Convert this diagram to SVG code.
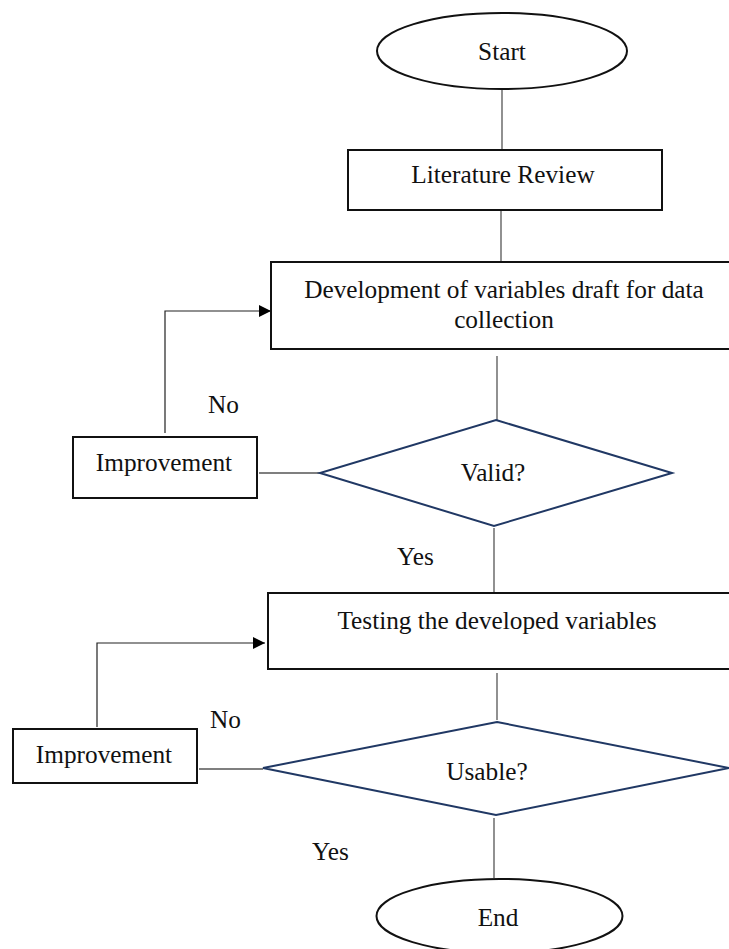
<svg xmlns="http://www.w3.org/2000/svg" width="729" height="949" viewBox="0 0 729 949">
<style>
text{font-family:"Liberation Serif","Times New Roman",serif;font-size:25.3px;fill:#111;text-anchor:middle}
.box{fill:#fff;stroke:#111;stroke-width:2}
.dia{fill:#fff;stroke:#203864;stroke-width:2}
.ln{fill:none;stroke:#555;stroke-width:1.3}
.ar{fill:none;stroke:#222;stroke-width:1.2}
.lbl{text-anchor:start}
</style>
<defs>
<marker id="ah" markerWidth="12" markerHeight="12" refX="12" refY="6" orient="auto" markerUnits="userSpaceOnUse">
<path d="M0,0 L12,6 L0,12 Z" fill="#000"/>
</marker>
</defs>
<rect width="729" height="949" fill="#fff"/>
<g id="connectors">
<line class="ln" x1="502" y1="89" x2="502" y2="150"/>
<line class="ln" x1="501" y1="210" x2="501" y2="262"/>
<line class="ln" x1="497" y1="356" x2="497" y2="420"/>
<line class="ln" x1="494" y1="528" x2="494" y2="593"/>
<line class="ln" x1="259" y1="473" x2="320" y2="473"/>
<polyline class="ar" points="165,433 165,311 271,311" marker-end="url(#ah)"/>
<line class="ln" x1="497" y1="673" x2="497" y2="720"/>
<line class="ln" x1="494" y1="818" x2="494" y2="878"/>
<line class="ln" x1="199" y1="769" x2="263" y2="769"/>
<polyline class="ar" points="97,727 97,643 265,643" marker-end="url(#ah)"/>
<text class="lbl" x="208" y="413">No</text>
<text class="lbl" x="397" y="565">Yes</text>
<text class="lbl" x="210" y="728">No</text>
<text class="lbl" x="312" y="860">Yes</text>
</g>
<g id="start">
<ellipse class="box" cx="502" cy="51" rx="125" ry="38"/>
<text x="502" y="60">Start</text>
</g>
<g id="literature">
<rect class="box" x="348" y="150" width="314" height="60"/>
<text x="503" y="183">Literature Review</text>
</g>
<g id="development">
<rect class="box" x="271" y="262" width="459" height="87"/>
<text x="504" y="298">Development of variables draft for data</text>
<text x="504" y="328">collection</text>
</g>
<g id="valid">
<polygon class="dia" points="496,420 672,473 494,526 320,473"/>
<text x="493" y="481">Valid?</text>
</g>
<g id="improvement1">
<rect class="box" x="73" y="437" width="184" height="61"/>
<text x="164" y="471">Improvement</text>
</g>
<g id="testing">
<rect class="box" x="268" y="593" width="462" height="76"/>
<text x="497" y="629">Testing the developed variables</text>
</g>
<g id="usable">
<polygon class="dia" points="497,722 729,768 496,815 263,768"/>
<text x="487" y="780">Usable?</text>
</g>
<g id="improvement2">
<rect class="box" x="13" y="729" width="184" height="54"/>
<text x="104" y="763">Improvement</text>
</g>
<g id="end">
<ellipse class="box" cx="499.5" cy="916" rx="123" ry="37"/>
<text x="498" y="926">End</text>
</g>
</svg>
